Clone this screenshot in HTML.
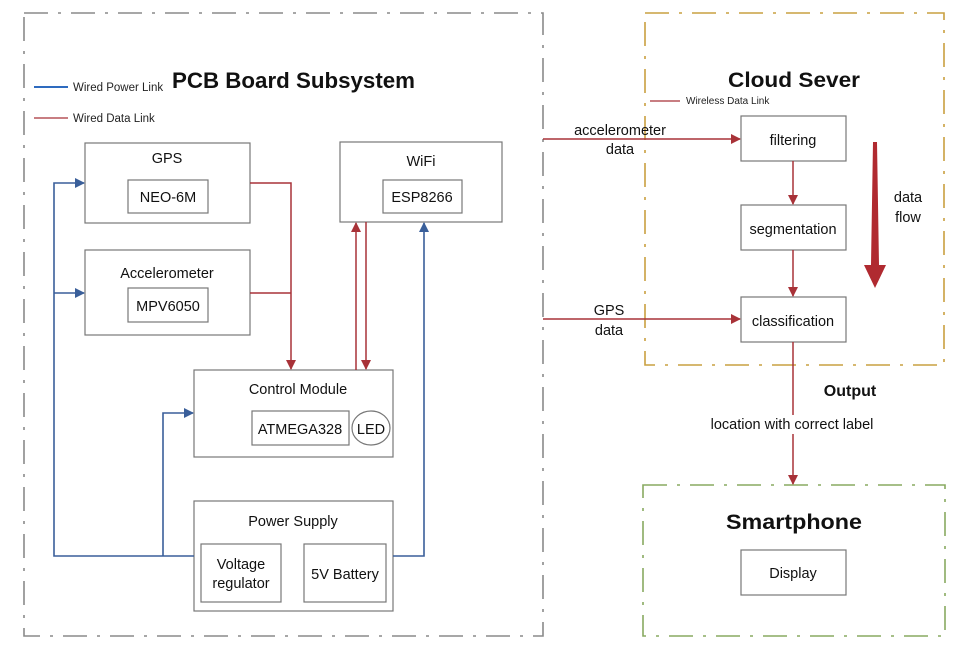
<!DOCTYPE html>
<html><head><meta charset="utf-8"><style>
html,body{margin:0;padding:0;background:#fff;}
svg{display:block;font-family:"Liberation Sans",sans-serif;}
</style></head><body>
<svg width="970" height="666" viewBox="0 0 970 666" xmlns="http://www.w3.org/2000/svg">
<defs>
<marker id="ab" markerWidth="10" markerHeight="10" refX="9" refY="5" orient="auto" markerUnits="userSpaceOnUse"><path d="M0,0 L10,5 L0,10 z" fill="#3a5f9a"/></marker>
<marker id="ar" markerWidth="10" markerHeight="10" refX="9" refY="5" orient="auto" markerUnits="userSpaceOnUse"><path d="M0,0 L10,5 L0,10 z" fill="#a83238"/></marker>
</defs>
<rect x="24" y="13" width="519" height="623" fill="none" stroke="#8a8a8a" stroke-width="1.6" stroke-dasharray="24 10 3 10"/>
<rect x="645" y="13" width="299" height="352" fill="none" stroke="#c9a040" stroke-width="1.6" stroke-dasharray="24 10 3 10"/>
<rect x="643" y="485" width="302" height="151" fill="none" stroke="#88aa60" stroke-width="1.6" stroke-dasharray="24 10 3 10"/>
<text x="172" y="88" font-size="22" font-weight="bold" textLength="243" lengthAdjust="spacingAndGlyphs" fill="#111">PCB Board Subsystem</text>
<text x="728" y="87" font-size="21" font-weight="bold" textLength="132" lengthAdjust="spacingAndGlyphs" fill="#111">Cloud Sever</text>
<text x="726" y="529" font-size="21" font-weight="bold" textLength="136" lengthAdjust="spacingAndGlyphs" fill="#111">Smartphone</text>
<text x="850" y="396" font-size="16" font-weight="bold" text-anchor="middle" fill="#111">Output</text>
<line x1="34" y1="87" x2="68" y2="87" stroke="#2e6bbf" stroke-width="2"/>
<text x="73" y="91" font-size="11.5" fill="#222">Wired Power Link</text>
<line x1="34" y1="118" x2="68" y2="118" stroke="#a83238" stroke-width="1.3"/>
<text x="73" y="122" font-size="11.5" fill="#222">Wired Data Link</text>
<line x1="650" y1="101" x2="680" y2="101" stroke="#a83238" stroke-width="1.3"/>
<text x="686" y="104" font-size="10" fill="#222">Wireless Data Link</text>
<g fill="#fff" stroke="#777" stroke-width="1.2">
<rect x="85" y="143" width="165" height="80"/>
<rect x="128" y="180" width="80" height="33"/>
<rect x="85" y="250" width="165" height="85"/>
<rect x="128" y="288" width="80" height="34"/>
<rect x="340" y="142" width="162" height="80"/>
<rect x="383" y="180" width="79" height="33"/>
<rect x="194" y="370" width="199" height="87"/>
<rect x="252" y="411" width="97" height="34"/>
<ellipse cx="371" cy="428" rx="19" ry="17"/>
<rect x="194" y="501" width="199" height="110"/>
<rect x="201" y="544" width="80" height="58"/>
<rect x="304" y="544" width="82" height="58"/>
<rect x="741" y="116" width="105" height="45"/>
<rect x="741" y="205" width="105" height="45"/>
<rect x="741" y="297" width="105" height="45"/>
<rect x="741" y="550" width="105" height="45"/>
</g>
<g font-size="14.5" fill="#111" text-anchor="middle">
<text x="167" y="163">GPS</text>
<text x="168" y="202">NEO-6M</text>
<text x="167" y="278">Accelerometer</text>
<text x="168" y="311">MPV6050</text>
<text x="421" y="166">WiFi</text>
<text x="422" y="202">ESP8266</text>
<text x="298" y="394">Control Module</text>
<text x="300" y="434">ATMEGA328</text>
<text x="371" y="434">LED</text>
<text x="293" y="526">Power Supply</text>
<text x="241" y="569">Voltage</text>
<text x="241" y="588">regulator</text>
<text x="345" y="579">5V Battery</text>
<text x="793" y="145">filtering</text>
<text x="793" y="234">segmentation</text>
<text x="793" y="326">classification</text>
<text x="793" y="578">Display</text>
<text x="620" y="135">accelerometer</text>
<text x="620" y="154">data</text>
<text x="609" y="315">GPS</text>
<text x="609" y="335">data</text>
<text x="792" y="429">location with correct label</text>
<text x="908" y="202">data</text>
<text x="908" y="222">flow</text>
</g>
<g fill="none" stroke="#3a5f9a" stroke-width="1.6">
<polyline points="194,556 54,556 54,183 84,183" marker-end="url(#ab)"/>
<line x1="54" y1="293" x2="84" y2="293" marker-end="url(#ab)"/>
<polyline points="163,556 163,413 193,413" marker-end="url(#ab)"/>
<polyline points="393,556 424,556 424,223" marker-end="url(#ab)"/>
</g>
<g fill="none" stroke="#a83238" stroke-width="1.5">
<polyline points="250,183 291,183 291,369" marker-end="url(#ar)"/>
<line x1="250" y1="293" x2="291" y2="293"/>
<line x1="356" y1="370" x2="356" y2="223" marker-end="url(#ar)"/>
<line x1="366" y1="222" x2="366" y2="369" marker-end="url(#ar)"/>
<line x1="543" y1="139" x2="740" y2="139" marker-end="url(#ar)"/>
<line x1="543" y1="319" x2="740" y2="319" marker-end="url(#ar)"/>
<line x1="793" y1="161" x2="793" y2="204" marker-end="url(#ar)"/>
<line x1="793" y1="250" x2="793" y2="296" marker-end="url(#ar)"/>
<line x1="793" y1="342" x2="793" y2="415"/>
<line x1="793" y1="434" x2="793" y2="484" marker-end="url(#ar)"/>
</g>
<path d="M873,142 L877,142 L879,265 L886,265 L875,288 L864,265 L871,265 Z" fill="#b02a30"/>
</svg>
</body></html>
